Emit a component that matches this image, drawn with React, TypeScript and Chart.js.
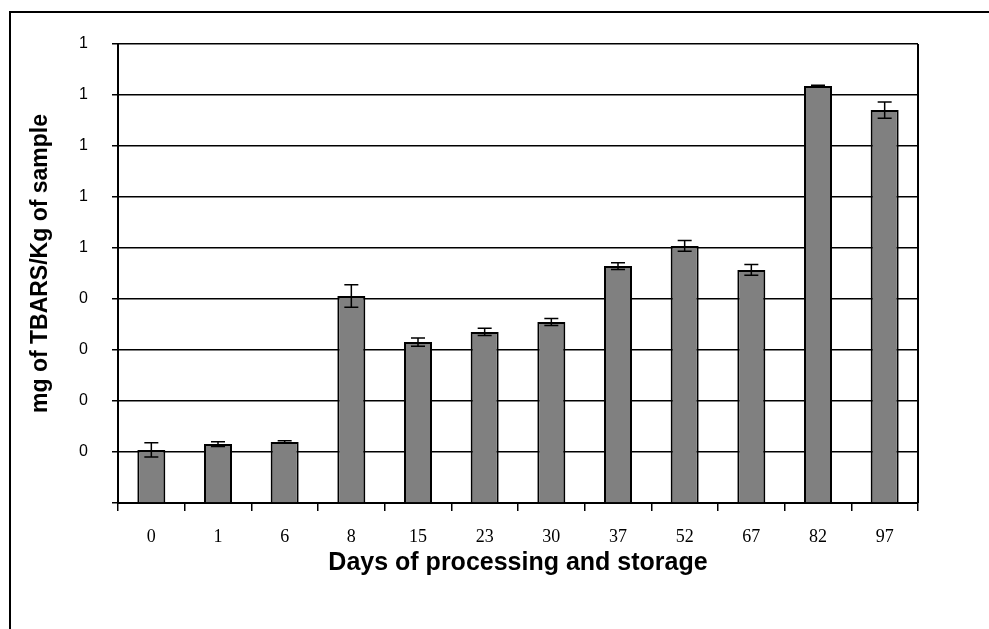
import React, { useEffect, useRef } from "react";
import { Chart, registerables } from "chart.js";

Chart.register(...registerables);

const days = ["0", "1", "6", "8", "15", "23", "30", "37", "52", "67", "82", "97"];
const tbars = [0.208, 0.231, 0.239, 0.812, 0.631, 0.671, 0.71, 0.929, 1.008, 0.914, 1.635, 1.541];
const errors = [0.028, 0.009, 0.005, 0.044, 0.016, 0.014, 0.014, 0.013, 0.021, 0.021, 0.003, 0.032];
const yTickValues = [0, 0.2, 0.4, 0.6, 0.8, 1.0, 1.2, 1.4, 1.6, 1.8];
const yTickLabels = ["", "0", "0", "0", "0", "1", "1", "1", "1", "1"];

const yTitle = "mg of TBARS/Kg of sample";
const xTitle = "Days of processing and storage";

const decorPlugin = {
  id: "decor",
  afterDatasetsDraw(chart: any) {
    const { ctx, chartArea, scales } = chart;
    const meta = chart.getDatasetMeta(0);
    ctx.save();
    ctx.strokeStyle = "#000";
    ctx.lineWidth = 1.5;
    meta.data.forEach((bar: any, i: number) => {
      const x = bar.x;
      const yTop = scales.y.getPixelForValue(tbars[i] + errors[i]);
      const yBot = scales.y.getPixelForValue(tbars[i] - errors[i]);
      ctx.beginPath();
      ctx.moveTo(x, yTop);
      ctx.lineTo(x, yBot);
      ctx.moveTo(x - 7, yTop);
      ctx.lineTo(x + 7, yTop);
      ctx.moveTo(x - 7, yBot);
      ctx.lineTo(x + 7, yBot);
      ctx.stroke();
    });
    // right border of plot area
    ctx.lineWidth = 2;
    ctx.beginPath();
    ctx.moveTo(chartArea.right, chartArea.top);
    ctx.lineTo(chartArea.right, chartArea.bottom);
    ctx.stroke();
    // outer frame (left and top edges)
    ctx.beginPath();
    ctx.moveTo(10, chart.height);
    ctx.lineTo(10, 12);
    ctx.lineTo(chart.width, 12);
    ctx.stroke();
    // y-axis title, centred slightly above the plot middle as in the source
    ctx.translate(41, chartArea.top + (chartArea.bottom - chartArea.top) / 2 - 10);
    ctx.rotate(-Math.PI / 2);
    ctx.fillStyle = "#000";
    ctx.font = "bold 23px 'Liberation Sans', Arial, sans-serif";
    ctx.textAlign = "center";
    ctx.textBaseline = "middle";
    ctx.fillText(yTitle, 0, 0);
    ctx.restore();
  },
};

export default function App() {
  const ref = useRef<HTMLCanvasElement | null>(null);

  useEffect(() => {
    if (!ref.current) return;
    const chart = new Chart(ref.current, {
      type: "bar",
      data: {
        labels: days,
        datasets: [
          {
            data: tbars,
            backgroundColor: "#808080",
            borderColor: "#000",
            borderWidth: 2,
            barPercentage: 0.42,
            categoryPercentage: 1,
          },
        ],
      },
      options: {
        responsive: false,
        animation: false,
        layout: { padding: { left: 26, top: 44, right: 71, bottom: 51 } },
        plugins: { legend: { display: false }, tooltip: { enabled: false } },
        scales: {
          x: {
            afterFit: (s: any) => {
              s.height = 75;
            },
            grid: {
              display: true,
              drawOnChartArea: false,
              drawTicks: true,
              tickLength: 8,
              color: "#000",
              lineWidth: 1.5,
              offset: true,
            },
            border: { display: true, color: "#000", width: 2 },
            ticks: {
              color: "#000",
              padding: 15,
              maxRotation: 0,
              font: { family: "'Liberation Serif', 'Times New Roman', serif", size: 18 },
            },
            title: {
              display: true,
              text: xTitle,
              color: "#000",
              padding: 0,
              font: { family: "'Liberation Sans', Arial, sans-serif", size: 25, weight: "bold" },
            },
          },
          y: {
            min: 0,
            max: 1.8,
            afterFit: (s: any) => {
              s.width = 92;
            },
            afterBuildTicks: (s: any) => {
              s.ticks = yTickValues.map((v) => ({ value: v }));
            },
            grid: {
              color: "#000",
              lineWidth: 1.5,
              drawTicks: true,
              tickLength: 6,
            },
            border: { display: true, color: "#000", width: 2 },
            ticks: {
              color: "#000",
              padding: 24,
              font: { family: "'Liberation Sans', Arial, sans-serif", size: 16 },
              callback: (_v: any, i: number) => yTickLabels[i],
            },
            title: { display: false },
          },
        },
      },
      plugins: [decorPlugin],
    } as any);
    return () => chart.destroy();
  }, []);

  return (
    <div style={{ position: "absolute", left: 0, top: 0, width: 989, height: 629, background: "#fff" }}>
      <canvas ref={ref} width={989} height={629} />
    </div>
  );
}
